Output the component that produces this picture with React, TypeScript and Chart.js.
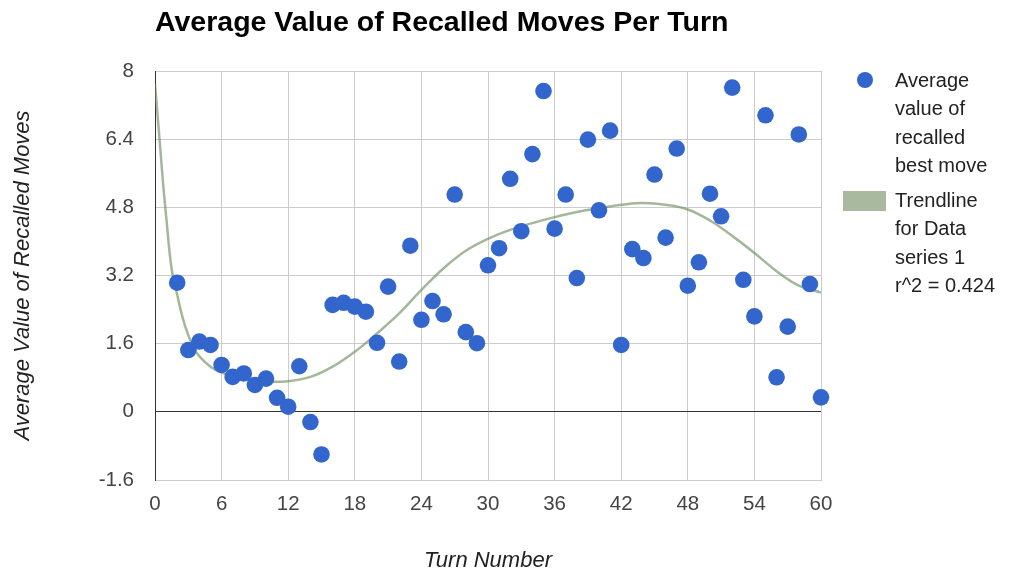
import React, { useEffect, useRef } from "react";
import { Chart, registerables } from "chart.js";

Chart.register(...registerables);

const chartTitle = "Average Value of Recalled Moves Per Turn";
const xAxisTitle = "Turn Number";
const yAxisTitle = "Average Value of Recalled Moves";
const seriesLabelLines = ["Average", "value of", "recalled", "best move"];
const trendLabelLines = ["Trendline", "for Data", "series 1", "r^2 = 0.424"];

const turns = [
  2, 3, 4, 5, 6, 7, 8, 9, 10, 11, 12, 13, 14, 15, 16, 17, 18, 19, 20, 21,
  22, 23, 24, 25, 26, 27, 28, 29, 30, 31, 32, 33, 34, 35, 36, 37, 38, 39, 40,
  41, 42, 43, 44, 45, 46, 47, 48, 49, 50, 51, 52, 53, 54, 55, 56, 57, 58, 59, 60,
];
const avgValues = [
  3.03, 1.45, 1.65, 1.57, 1.1, 0.82, 0.9, 0.63, 0.78, 0.33, 0.12, 1.07, -0.24,
  -1.0, 2.51, 2.56, 2.47, 2.35, 1.62, 2.94, 1.18, 3.9, 2.16, 2.6, 2.29, 5.1,
  1.87, 1.61, 3.44, 3.84, 5.47, 4.24, 6.05, 7.53, 4.3, 5.1, 3.14, 6.39, 4.73,
  6.6, 1.57, 3.82, 3.61, 5.57, 4.09, 6.18, 2.96, 3.51, 5.12, 4.59, 7.61, 3.1,
  2.24, 6.96, 0.81, 2.0, 6.51, 3.0, 0.34,
];

const trendX = [
  0, 0.25, 0.5, 0.75, 1, 1.5, 2, 2.5, 3, 3.5, 4, 5, 6, 8, 10, 12, 14, 16, 18,
  20, 22, 24, 26, 28, 30, 32, 34, 36, 38, 40, 42, 44, 46, 48, 50, 52, 54, 56,
  58, 60,
];
const trendY = [
  7.7, 6.9, 6.1, 5.3, 4.6, 3.35, 2.75, 2.2, 1.8, 1.5, 1.3, 1.06, 0.92, 0.77,
  0.71, 0.72, 0.82, 1.06, 1.41, 1.84, 2.31, 2.86, 3.37, 3.78, 4.06, 4.27, 4.43,
  4.57, 4.69, 4.78, 4.86, 4.9, 4.86, 4.75, 4.49, 4.13, 3.73, 3.3, 2.96, 2.8,
];

const POINT_COLOR = "#3366cc";
const TREND_COLOR = "rgba(105,140,90,0.62)";
const TREND_SWATCH = "#a9b9a0";
const FONT = '"Liberation Sans", Arial, sans-serif';

const overlayPlugin = {
  id: "overlay",
  afterDraw(chart: any) {
    const ctx = chart.ctx;
    const area = chart.chartArea;
    ctx.save();
    // title
    ctx.fillStyle = "#000";
    ctx.font = `bold 28.5px ${FONT}`;
    ctx.textAlign = "left";
    ctx.textBaseline = "alphabetic";
    ctx.fillText(chartTitle, area.left, 31);

    // x axis title
    ctx.fillStyle = "#222";
    ctx.font = `italic 22px ${FONT}`;
    ctx.textAlign = "center";
    ctx.textBaseline = "middle";
    ctx.fillText(xAxisTitle, (area.left + area.right) / 2, 561);

    // y axis title
    ctx.save();
    ctx.translate(23, (area.top + area.bottom) / 2);
    ctx.rotate(-Math.PI / 2);
    ctx.fillText(yAxisTitle, 0, 0);
    ctx.restore();

    // legend
    const lx = 895;
    const lh = 28.5;
    ctx.font = `20px ${FONT}`;
    ctx.fillStyle = "#222";
    ctx.textAlign = "left";
    ctx.textBaseline = "middle";
    seriesLabelLines.forEach((t, i) => ctx.fillText(t, lx, 81 + i * lh));
    trendLabelLines.forEach((t, i) => ctx.fillText(t, lx, 201 + i * lh));
    ctx.fillStyle = POINT_COLOR;
    ctx.beginPath();
    ctx.arc(865, 80, 8, 0, Math.PI * 2);
    ctx.fill();
    ctx.fillStyle = TREND_SWATCH;
    ctx.fillRect(843, 191, 43, 20);
    ctx.restore();
  },
};

export default function App() {
  const canvasRef = useRef<HTMLCanvasElement | null>(null);

  useEffect(() => {
    const canvas = canvasRef.current;
    if (!canvas) return;
    const chart = new Chart(canvas, {
      type: "scatter",
      data: {
        datasets: [
          {
            type: "scatter",
            label: "Average value of recalled best move",
            data: turns.map((t, i) => ({ x: t, y: avgValues[i] })),
            backgroundColor: POINT_COLOR,
            borderWidth: 0,
            pointRadius: 8.3,
            pointHoverRadius: 8.3,
            clip: false as any,
            order: 1,
          },
          {
            type: "line",
            label: "Trendline for Data series 1",
            data: trendX.map((x, i) => ({ x, y: trendY[i] })),
            borderColor: TREND_COLOR,
            borderWidth: 2.5,
            pointRadius: 0,
            fill: false,
            tension: 0.4,
            order: 2,
          } as any,
        ],
      },
      options: {
        animation: false,
        responsive: false,
        layout: { padding: { top: 71, right: 189, left: 0, bottom: 0 } },
        plugins: {
          legend: { display: false },
          title: { display: false },
          tooltip: { enabled: false },
        },
        scales: {
          x: {
            type: "linear",
            min: 0,
            max: 60,
            ticks: {
              stepSize: 6,
              color: "#444",
              font: { family: FONT, size: 20.5 },
              padding: 12,
              maxRotation: 0,
            },
            grid: { color: "#cccccc", drawTicks: false },
            border: { color: "#cccccc" },
            afterFit: (scale: any) => {
              scale.height = 93;
            },
          },
          y: {
            type: "linear",
            min: -1.6,
            max: 8,
            ticks: {
              stepSize: 1.6,
              color: "#444",
              font: { family: FONT, size: 20.5 },
              padding: 21,
              callback: (v: any) => String(parseFloat(Number(v).toFixed(2))),
            },
            grid: {
              color: (c: any) =>
                c.tick && Math.abs(c.tick.value) < 1e-9 ? "#333333" : "#cccccc",
              drawTicks: false,
            },
            border: { color: "#333333" },
            afterFit: (scale: any) => {
              scale.width = 155;
            },
          },
        },
      },
      plugins: [overlayPlugin],
    });
    return () => chart.destroy();
  }, []);

  return (
    <div style={{ position: "absolute", left: 0, top: 0, width: 1010, height: 573, background: "#fff" }}>
      <canvas ref={canvasRef} width={1010} height={573} />
    </div>
  );
}
